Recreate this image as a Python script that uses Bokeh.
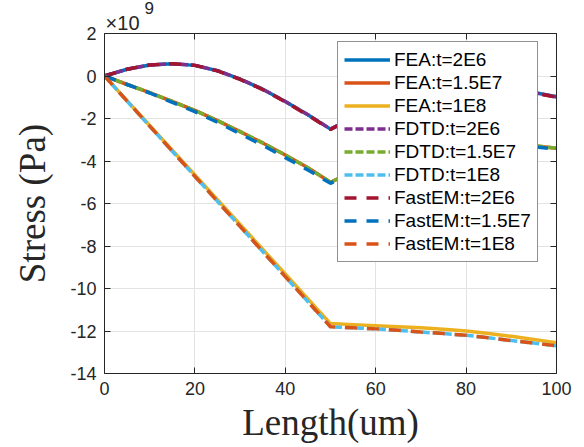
from bokeh.plotting import figure
from bokeh.models import (Legend, LegendItem, LinearAxis, FixedTicker, Range1d,
                          CustomJSTickFormatter)
from bokeh.embed import file_html
from bokeh.resources import INLINE

# ---- data (stress in units of 1e9 Pa) ----
x_len = [0, 5, 10, 15, 20, 25, 30, 35, 40, 45, 50, 55, 60, 65, 70, 75, 80, 85, 90, 95, 100]

fea_2e6 = [0, 0.32, 0.52, 0.58, 0.50, 0.25, -0.15, -0.62, -1.20, -1.82, -2.50,
           -1.95, -1.50, -1.15, -0.90, -0.72, -0.62, -0.60, -0.65, -0.78, -0.98]
fea_15e7 = [0, -0.40, -0.78, -1.20, -1.62, -2.10, -2.62, -3.15, -3.72, -4.32, -5.00,
            -4.50, -4.10, -3.80, -3.55, -3.38, -3.28, -3.22, -3.22, -3.28, -3.40]
fea_1e8 = [0, -1.165, -2.33, -3.495, -4.66, -5.825, -6.99, -8.155, -9.32, -10.485, -11.65,
           -11.70, -11.75, -11.80, -11.85, -11.92, -12.00, -12.12, -12.25, -12.40, -12.55]

fdtd_2e6 = [0, 0.32, 0.52, 0.58, 0.50, 0.25, -0.15, -0.62, -1.20, -1.82, -2.50,
            -1.95, -1.50, -1.15, -0.90, -0.72, -0.62, -0.60, -0.65, -0.78, -0.98]
fdtd_15e7 = [0, -0.40, -0.78, -1.20, -1.62, -2.10, -2.62, -3.15, -3.72, -4.32, -5.00,
             -4.50, -4.10, -3.80, -3.55, -3.38, -3.28, -3.22, -3.22, -3.28, -3.40]
fdtd_1e8 = [0, -1.18, -2.36, -3.54, -4.72, -5.90, -7.08, -8.26, -9.44, -10.62, -11.80,
            -11.85, -11.90, -11.97, -12.05, -12.12, -12.20, -12.32, -12.45, -12.57, -12.70]

fastem_2e6 = [0, 0.32, 0.52, 0.58, 0.50, 0.24, -0.16, -0.64, -1.22, -1.85, -2.52,
              -1.97, -1.52, -1.17, -0.92, -0.74, -0.64, -0.62, -0.67, -0.80, -1.00]
fastem_15e7 = [0, -0.40, -0.80, -1.24, -1.68, -2.18, -2.72, -3.26, -3.84, -4.42, -5.05,
               -4.55, -4.15, -3.85, -3.60, -3.43, -3.33, -3.27, -3.27, -3.33, -3.45]
fastem_1e8 = [0, -1.18, -2.36, -3.54, -4.72, -5.90, -7.08, -8.26, -9.44, -10.62, -11.80,
              -11.85, -11.90, -11.97, -12.05, -12.12, -12.20, -12.32, -12.45, -12.57, -12.70]

x_ticks = [0, 20, 40, 60, 80, 100]
y_ticks = [2, 0, -2, -4, -6, -8, -10, -12, -14]
exp_base = "×10"
exp_power = "9"

series = [
    ("FEA:t=2E6", fea_2e6, "#0072BD", "solid"),
    ("FEA:t=1.5E7", fea_15e7, "#D95319", "solid"),
    ("FEA:t=1E8", fea_1e8, "#EDB120", "solid"),
    ("FDTD:t=2E6", fdtd_2e6, "#7E2F8E", "8 3"),
    ("FDTD:t=1.5E7", fdtd_15e7, "#77AC30", "8 3"),
    ("FDTD:t=1E8", fdtd_1e8, "#4DBEEE", "8 3"),
    ("FastEM:t=2E6", fastem_2e6, "#A2142F", "12 10"),
    ("FastEM:t=1.5E7", fastem_15e7, "#0072BD", "12 10"),
    ("FastEM:t=1E8", fastem_1e8, "#D95319", "12 10"),
]

AX = "#262626"
TICK_FONT = "Liberation Sans"
LABEL_FONT = "Liberation Serif"

p = figure(width=584, height=447, output_backend="svg", toolbar_location=None,
           x_range=Range1d(0, 100), y_range=Range1d(-14, 2),
           min_border_left=104, min_border_right=28, min_border_top=33, min_border_bottom=74)
p.outline_line_color = None
p.background_fill_color = "white"
p.border_fill_color = "white"

# superscript part of the exponent marker, as the title (outermost above)
p.title.text = exp_power
p.title.align = "left"
p.title.offset = 40
p.title.standoff = -10
p.title.text_font = TICK_FONT
p.title.text_font_size = "17px"
p.title.text_font_style = "normal"
p.title.text_color = AX

plain = CustomJSTickFormatter(code="return tick.toString()")
for ax in (p.xaxis[0], p.yaxis[0]):
    ax.formatter = plain
    ax.axis_line_color = AX
    ax.major_tick_line_color = AX
    ax.major_tick_in = 6
    ax.major_tick_out = 0
    ax.minor_tick_line_color = None
    ax.major_label_text_font = TICK_FONT
    ax.major_label_text_font_size = "18px"
    ax.major_label_text_color = AX
    ax.axis_label_text_font = LABEL_FONT
    ax.axis_label_text_font_size = "37px"
    ax.axis_label_text_font_style = "normal"
    ax.axis_label_text_color = AX

p.xaxis.ticker = FixedTicker(ticks=x_ticks)
p.yaxis.ticker = FixedTicker(ticks=y_ticks)
p.xaxis.axis_label = "Length(um)"
p.yaxis.axis_label = "Stress (Pa)"
p.xaxis.major_label_standoff = 8
p.yaxis.major_label_standoff = 8
p.xaxis.axis_label_standoff = 4
p.yaxis.axis_label_standoff = 14

p.xgrid.ticker = FixedTicker(ticks=x_ticks)
p.ygrid.ticker = FixedTicker(ticks=y_ticks)
p.xgrid.grid_line_color = "#e3e3e3"
p.ygrid.grid_line_color = "#e3e3e3"

blank = CustomJSTickFormatter(code="return ''")
for loc, ticks in (("right", y_ticks), ("above", x_ticks)):
    a = LinearAxis(ticker=FixedTicker(ticks=ticks), formatter=blank, axis_line_color=AX,
                   major_tick_line_color=AX, major_tick_in=6, major_tick_out=0,
                   minor_tick_line_color=None, major_label_standoff=0,
                   major_label_text_font_size="2px")
    p.add_layout(a, loc)

# base part of the exponent marker, as a label-only axis above the box edge
exp_axis = LinearAxis(ticker=FixedTicker(ticks=[4.0]),
                      formatter=CustomJSTickFormatter(code="return '%s'" % exp_base),
                      axis_line_color=None, major_tick_line_color=None,
                      minor_tick_line_color=None, major_tick_in=0, major_tick_out=0,
                      major_label_standoff=0, major_label_text_font=TICK_FONT,
                      major_label_text_font_size="20px", major_label_text_color=AX)
p.add_layout(exp_axis, "above")

items = []
for name, ys, color, dash in series:
    r = p.line(x_len, ys, line_color=color, line_width=3.5, line_dash=dash)
    items.append(LegendItem(label=name, renderers=[r]))

legend = Legend(items=items, location=(233, 111), glyph_width=46, glyph_height=23,
                label_height=23, label_standoff=4, padding=6, margin=0, spacing=0,
                label_text_font=TICK_FONT, label_text_font_size="19px",
                label_text_color="black", border_line_color=AX, border_line_width=1,
                background_fill_color="white", background_fill_alpha=1)
p.add_layout(legend, "center")

open("out.html", "w").write(file_html(p, INLINE))
